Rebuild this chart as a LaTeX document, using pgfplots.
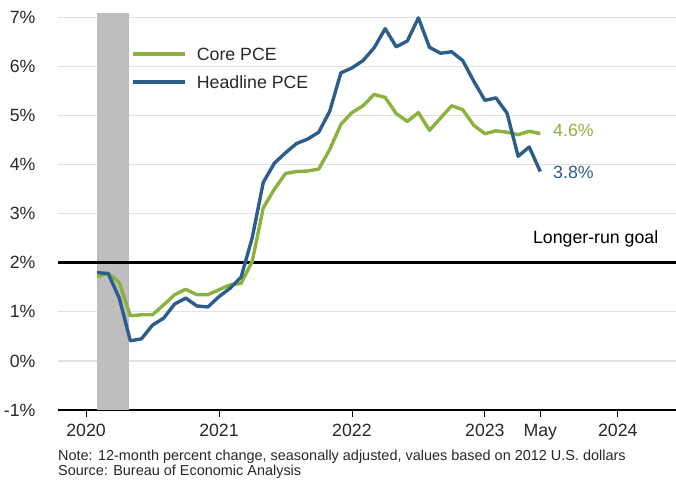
\documentclass[border=0pt]{standalone}
\usepackage{fontspec}
\setmainfont{Liberation Sans}
\usepackage{pgfplots}
\usepackage{pgfplotstable}
\pgfplotsset{compat=1.18}

\definecolor{coregreen}{RGB}{139,177,62}
\definecolor{headblue}{RGB}{44,94,140}
\definecolor{bandgray}{RGB}{190,190,190}
\definecolor{gridgray}{RGB}{226,226,226}
\definecolor{txt}{RGB}{40,40,40}

% month index: 1 = Jan 2020 ... 41 = May 2023
\pgfplotstableread{
m  core  head
1  1.71  1.80
2  1.79  1.78
3  1.60  1.28
4  0.92  0.41
5  0.94  0.45
6  0.94  0.73
7  1.14  0.87
8  1.35  1.16
9  1.46  1.28
10 1.35  1.12
11 1.35  1.10
12 1.45  1.31
13 1.55  1.48
14 1.58  1.71
15 2.03  2.51
16 3.12  3.64
17 3.50  4.03
18 3.82  4.24
19 3.86  4.43
20 3.87  4.52
21 3.91  4.66
22 4.31  5.09
23 4.82  5.87
24 5.06  5.97
25 5.20  6.12
26 5.43  6.38
27 5.37  6.77
28 5.04  6.40
29 4.88  6.52
30 5.06  6.99
31 4.70  6.39
32 4.95  6.27
33 5.20  6.30
34 5.12  6.12
35 4.80  5.70
36 4.63  5.31
37 4.69  5.36
38 4.66  5.05
39 4.61  4.17
40 4.68  4.36
41 4.63  3.86
}\pcedata

\newcommand{\bigf}{\fontsize{17.8}{21}\selectfont}
\newcommand{\smallf}{\fontsize{14.5}{16}\selectfont}

\begin{document}
\begin{tikzpicture}
\begin{axis}[
  name=ax,
  scale only axis,
  width=618bp, height=397bp,
  xmin=-2.53, xmax=53.25,
  ymin=-1, ymax=7.09,
  axis x line=bottom, axis y line=left,
  x axis line style={-, black, line width=2.6bp},
  y axis line style={draw=none},
  xtick={0,12,24,36,41,48},
  xticklabels={2020,2021,2022,2023,May,2024},
  ytick={-1,0,1,2,3,4,5,6,7},
  yticklabels={-1\%,0\%,1\%,2\%,3\%,4\%,5\%,6\%,7\%},
  tick label style={font=\bigf, text=txt},
  yticklabel style={xshift=-12bp},
  xticklabel style={yshift=-4bp},
  x tick style={black, line width=0.8bp},
  y tick style={draw=none},
  tick align=outside, major tick length=7bp,
  ymajorgrids, grid style={gridgray, line width=1.2bp},
  clip=false,
  legend cell align=left,
  legend style={at={(axis cs:4.05,5.97)}, anchor=west, draw=none, fill=none,
    font=\bigf, text=txt, inner sep=0pt, row sep=15bp,
    nodes={inner sep=0pt, text depth=0pt}},
  legend image code/.code={\draw[#1, line width=3.8bp] (0bp,0bp) -- (52bp,0bp);},
]
% recession band
\addplot[fill=bandgray, draw=none, forget plot]
  coordinates {(1,-1) (1,7.09) (3.9,7.09) (3.9,-1)} -- cycle;
% longer-run goal
\addplot[black, line width=3bp, forget plot]
  coordinates {(-2.53,2) (53.25,2)};
\addplot[coregreen, line width=3.4bp, line join=round] table[x=m, y=core] {\pcedata};
\addlegendentry{\hspace{10bp}Core PCE}
\addplot[headblue, line width=3.4bp, line join=round] table[x=m, y=head] {\pcedata};
\addlegendentry{\hspace{10bp}Headline PCE}

\node[anchor=west, text=coregreen, font=\bigf, inner sep=0pt] at (axis cs:42.15,4.69) {4.6\%};
\node[anchor=west, text=headblue, font=\bigf, inner sep=0pt] at (axis cs:42.15,3.84) {3.8\%};
\node[text=black, font=\bigf, inner sep=0pt] at (axis cs:46.0,2.48) {Longer-run goal};
\end{axis}
\node[anchor=west, inner sep=0pt, text=txt, font=\smallf]
  at ([yshift=-47bp]ax.south west) {Note: 12-month percent change, seasonally adjusted, values based on 2012 U.S. dollars};
\node[anchor=west, inner sep=0pt, text=txt, font=\smallf]
  at ([yshift=-62bp]ax.south west) {Source: Bureau of Economic Analysis};
\pgfresetboundingbox
\path ([shift={(-58bp,-73bp)}]ax.south west) rectangle ([yshift=13bp]ax.north east);
\end{tikzpicture}
\end{document}
